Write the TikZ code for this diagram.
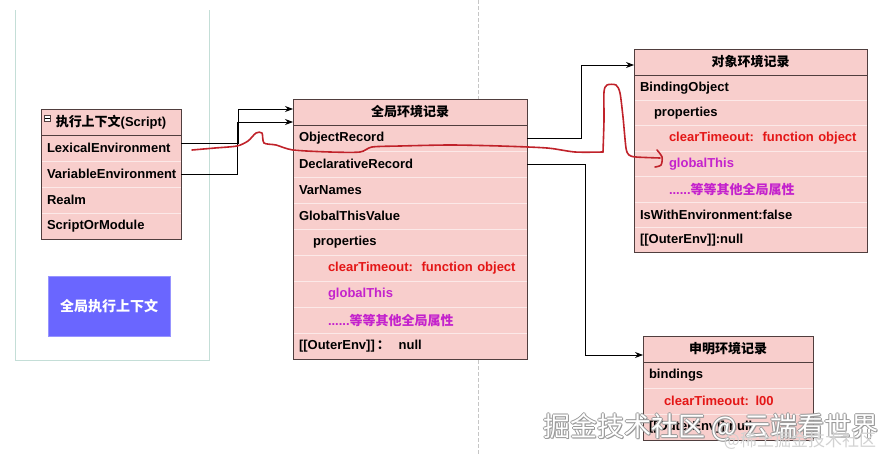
\documentclass[tikz,border=0pt]{standalone}
\usepackage{fontspec}
\setmainfont{Liberation Sans}
\newfontfamily\cjk{Noto Sans CJK SC}
\usetikzlibrary{arrows.meta}

\definecolor{recfill}{RGB}{248,206,204}
\definecolor{recline}{RGB}{80,62,62}
\definecolor{propred}{RGB}{228,22,22}
\definecolor{propmag}{RGB}{196,34,204}
\definecolor{penred}{RGB}{192,34,42}
\definecolor{panelline}{RGB}{196,222,215}
\definecolor{gecblue}{RGB}{106,102,255}

\tikzset{
  head/.style={fill=recfill, draw=recline, line width=1pt, anchor=north west, outer sep=0pt,
    minimum height=26pt, inner sep=0pt, font=\bfseries\fontsize{13}{15}\selectfont},
  row/.style={fill=recfill, anchor=north west, outer sep=0pt, minimum height=26pt, inner xsep=6pt,
    inner ysep=0pt, text width=#1, align=left, font=\bfseries\fontsize{13}{15}\selectfont},
  rowsep/.style={draw=white!55!recfill, line width=0.8pt},
  frame/.style={draw=recline, line width=1pt},
  conn/.style={-{Stealth[length=8pt,width=6pt]}, line width=0.9pt},
  redpen/.style={penred, line width=1.6pt, line cap=round, line join=round},
  wmark/.style={font=\cjk\fontsize{27}{27}\selectfont, inner sep=0pt},
}

\begin{document}
\begin{tikzpicture}[x=1pt, y=-1pt]
\useasboundingbox (0,0) rectangle (884,455);

% Divider
\draw[gray!45, line width=0.8pt, dash pattern=on 4pt off 2pt] (478,0) -- (478,455);

% Execution context panel
\draw[panelline, line width=1pt] (15,10) -- (15,360) -- (209,360) -- (209,10);

% 执行上下文(Script)
\node[head, minimum width=140pt] (scHead) at (41,109) {{\cjk 执行上下文}(Script)};
\node[row=128pt] (scLex)   at (scHead.south west) {LexicalEnvironment};
\node[row=128pt] (scVar)   at (scLex.south west)  {VariableEnvironment};
\node[row=128pt] (scRealm) at (scVar.south west)  {Realm};
\node[row=128pt] (scSOM)   at (scRealm.south west) {ScriptOrModule};
\foreach \r in {scLex,scVar,scRealm}
    \draw[rowsep] (\r.south west) -- (\r.south east);
\draw[frame] (scHead.north west) rectangle (scSOM.south east);
\draw[frame] (scHead.south west) -- (scHead.south east);
\node[draw=recline, fill=white, line width=0.6pt, minimum size=6pt, inner sep=0pt,
    anchor=north west] (scFold) at ([xshift=3pt,yshift=-6pt]scHead.north west) {};
\draw[line width=0.6pt] ([xshift=1pt]scFold.west) -- ([xshift=-1pt]scFold.east);

% 全局执行上下文
\node[fill=gecblue, draw=gecblue!70!white, anchor=north west, minimum width=122pt,
    minimum height=60pt, inner sep=0pt, text=white,
    font=\cjk\bfseries\fontsize{14}{16}\selectfont] (gec) at (48,276) {全局执行上下文};

% 全局环境记录
\node[head, minimum width=234pt] (gerHead) at (293,99) {\cjk 全局环境记录};
\node[row=222pt] (gerObj)   at (gerHead.south west) {ObjectRecord};
\node[row=222pt] (gerDecl)  at (gerObj.south west)  {DeclarativeRecord};
\node[row=222pt] (gerVar)   at (gerDecl.south west) {VarNames};
\node[row=222pt] (gerGTV)   at (gerVar.south west)  {GlobalThisValue};
\node[row=222pt] (gerProps) at (gerGTV.south west)  {\hspace*{14pt}properties};
\node[row=222pt, text=propred] (gerCT) at (gerProps.south west)
    {\hspace*{29pt}clearTimeout:~~function object};
\node[row=222pt, text=propmag] (gerGT) at (gerCT.south west) {\hspace*{29pt}globalThis};
\node[row=222pt, text=propmag] (gerEtc) at (gerGT.south west)
    {\hspace*{29pt}......{\cjk 等等其他全局属性}};
\node[row=222pt] (gerOuter) at (gerEtc.south west) {[[OuterEnv]]\,{\cjk ：}~~null};
\foreach \r in {gerObj,gerDecl,gerVar,gerGTV,gerProps,gerCT,gerGT,gerEtc}
    \draw[rowsep] (\r.south west) -- (\r.south east);
\draw[frame] (gerHead.north west) rectangle (gerOuter.south east);
\draw[frame] (gerHead.south west) -- (gerHead.south east);

% 对象环境记录
\node[head, minimum width=233pt] (oerHead) at (634,49) {\cjk 对象环境记录};
\begin{scope}[row/.append style={minimum height=25.4pt}]
\node[row=221pt] (oerBind)  at (oerHead.south west) {BindingObject};
\node[row=221pt] (oerProps) at (oerBind.south west) {\hspace*{14pt}properties};
\node[row=221pt, text=propred] (oerCT) at (oerProps.south west)
    {\hspace*{29pt}clearTimeout:~~function object};
\node[row=221pt, text=propmag] (oerGT) at (oerCT.south west) {\hspace*{29pt}globalThis};
\node[row=221pt, text=propmag] (oerEtc) at (oerGT.south west)
    {\hspace*{29pt}......{\cjk 等等其他全局属性}};
\node[row=221pt] (oerWith)  at (oerEtc.south west) {IsWithEnvironment:false};
\node[row=221pt] (oerOuter) at (oerWith.south west) {[[OuterEnv]]:null};
\end{scope}
\foreach \r in {oerBind,oerProps,oerCT,oerGT,oerEtc,oerWith}
    \draw[rowsep] (\r.south west) -- (\r.south east);
\draw[frame] (oerHead.north west) rectangle (oerOuter.south east);
\draw[frame] (oerHead.south west) -- (oerHead.south east);

% 申明环境记录
\node[head, minimum width=170pt] (derHead) at (643,336) {\cjk 申明环境记录};
\node[row=158pt] (derBind)  at (derHead.south west) {bindings};
\node[row=158pt, text=propred] (derCT) at (derBind.south west) {\hspace*{15pt}clearTimeout: l00};
\node[row=158pt] (derOuter) at (derCT.south west) {[[OuterEnv]]:null};
\foreach \r in {derBind,derCT}
    \draw[rowsep] (\r.south west) -- (\r.south east);
\draw[frame] (derHead.north west) rectangle (derOuter.south east);
\draw[frame] (derHead.south west) -- (derHead.south east);

% Connectors
\draw[conn] ([yshift=5pt]scLex.east) -- ++(57,0) |- ([yshift=3pt]gerHead.west);
\draw[conn] (scVar.east) -- ++(56,0) |- ([yshift=-10pt]gerHead.west);
\draw[conn] (gerObj.east) -- ++(54,0) |- ([yshift=-3pt]oerHead.west);
\draw[conn] (gerDecl.east) -- ++(58,0) |- ([yshift=-6pt]derHead.west);

% Hand-drawn mark
\draw[redpen] plot[smooth, tension=0.45] coordinates {
    (192,150) (215,148) (237,146) (248,141) (256,133) (262,133) (264,143)
    (276,145) (293,150) (330,152) (360,152) (372,147) (400,146) (450,145)
    (500,146) (547,148) (575,152) (603,152)};
\draw[redpen] plot[smooth, tension=0.45] coordinates {
    (603,152) (604,120) (604,92) (607,85) (616,85) (620,93) (623,117)
    (626,148) (629,155) (636,157) (660,158)};
\draw[redpen] plot[smooth, tension=0.5] coordinates {
    (657,150) (662,157) (661,165) (655,167)};

% Watermark
\foreach \dx/\dy [count=\k] in {-0.9/0, 0.9/0, 0/-0.9, 0/0.9, 0.9/-0.9}
    \node[wmark, text=gray!80, xshift=\dx pt, yshift=\dy pt] (wmHalo\k) at (711,427)
        {掘金技术社区 @ 云端看世界};
\node[wmark, text=white] (wm) at (711,427) {掘金技术社区 @ 云端看世界};
\node[font=\cjk\fontsize{17}{17}\selectfont, inner sep=0pt, text=gray!35] (wmSite)
    at (800,441) {@稀土掘金技术社区};

\end{tikzpicture}
\end{document}
